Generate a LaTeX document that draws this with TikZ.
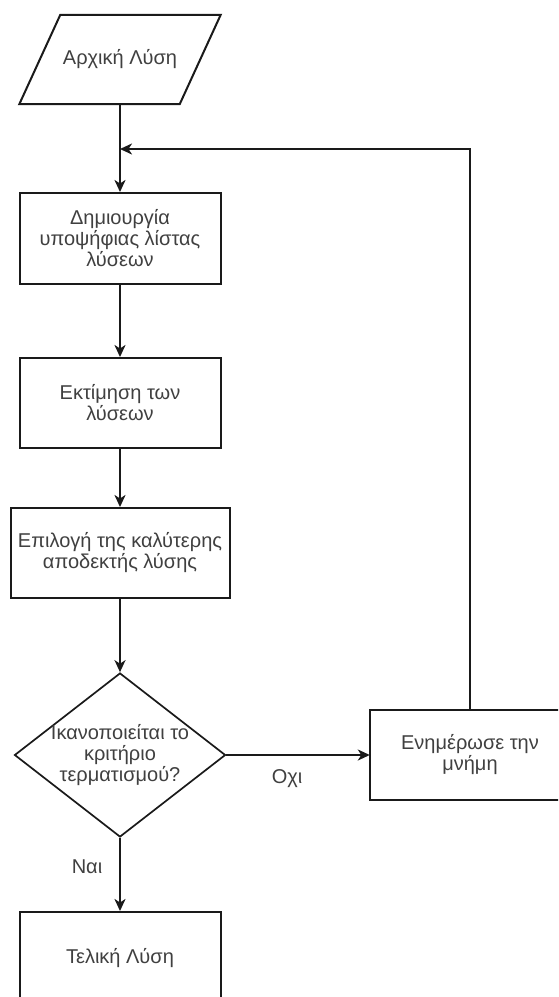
\documentclass[tikz,border=0pt]{standalone}
\usepackage{fontspec}
\setmainfont{Liberation Sans}
\usetikzlibrary{shapes.geometric,arrows.meta,calc}
\definecolor{inkline}{HTML}{1A1A1A}
\definecolor{inktext}{HTML}{404040}
\begin{document}
\begin{tikzpicture}[x=1pt,y=-1pt,
  every node/.style={font=\fontsize{20}{21}\selectfont, text=inktext},
  procbox/.style={draw=inkline, line width=2pt, rectangle, inner sep=0pt, align=center},
  decbox/.style={draw=inkline, line width=1.7pt, diamond, inner sep=0pt, minimum width=211, minimum height=164},
  flow/.style={draw=inkline, line width=2pt, -{Stealth[length=12pt,width=11pt,inset=3.5pt]}},
  plain/.style={draw=inkline, line width=2pt},
  lbl/.style={inner sep=0pt}]
\useasboundingbox (0,0) rectangle (558,997);
\fill[white] (0,0) rectangle (558,997);
\clip (0,0) rectangle (558,997);

% start: input parallelogram
\node[inner sep=0pt, minimum width=201, minimum height=89] (start) at (120,59.5) {Αρχική Λύση};
\draw[plain, line join=miter]
  ($(start.north west)+(41,0)$) -- (start.north east)
  -- ($(start.south east)+(-41,0)$) -- (start.south west) -- cycle;

% process steps
\node[procbox, minimum width=201, minimum height=91] (gen) at (120,238.5)
  {Δημιουργία\\υποψήφιας λίστας\\λύσεων};
\node[procbox, minimum width=201, minimum height=90] (eval) at (120,403)
  {Εκτίμηση των\\λύσεων};
\node[procbox, minimum width=219, minimum height=90] (pick) at (120,553)
  {Επιλογή της καλύτερης\\αποδεκτής λύσης};

% decision
\node[decbox, label={[align=center, text=inktext]center:Ικανοποιείται το\\κριτήριο\\τερματισμού?}] (dec) at (120,755) {};

% memory update: text centred on the loop line, frame runs off to the right
\node[inner sep=0pt, align=center, minimum width=200, minimum height=89] (upd) at (470,755)
  {Ενημέρωσε την\\μνήμη};
\draw[plain] ($(upd.north east)+(60,0)$) -- (upd.north west) -- (upd.south west)
  -- ($(upd.south east)+(60,0)$);

% final result (runs past the bottom edge)
\node[procbox, minimum width=201, minimum height=92] (fin) at (120,958)
  {Τελική Λύση};

% loop-back join point
\coordinate (join) at (120,149);

% connectors
\draw[plain] (start.south) -- (join);
\draw[flow] (join) -- (gen.north);
\draw[flow] (gen.south) -- (eval.north);
\draw[flow] (eval.south) -- (pick.north);
\draw[flow] (pick.south) -- (dec.north);
\draw[flow] (dec.east) -- (upd.west);
\draw[flow] (dec.south) -- (fin.north);
\draw[flow, line join=miter] (upd.north) |- (join);

% branch labels
\node[lbl] (no) at (287,779) {Οχι};
\node[lbl] (yes) at (87,867) {Ναι};
\end{tikzpicture}
\end{document}
